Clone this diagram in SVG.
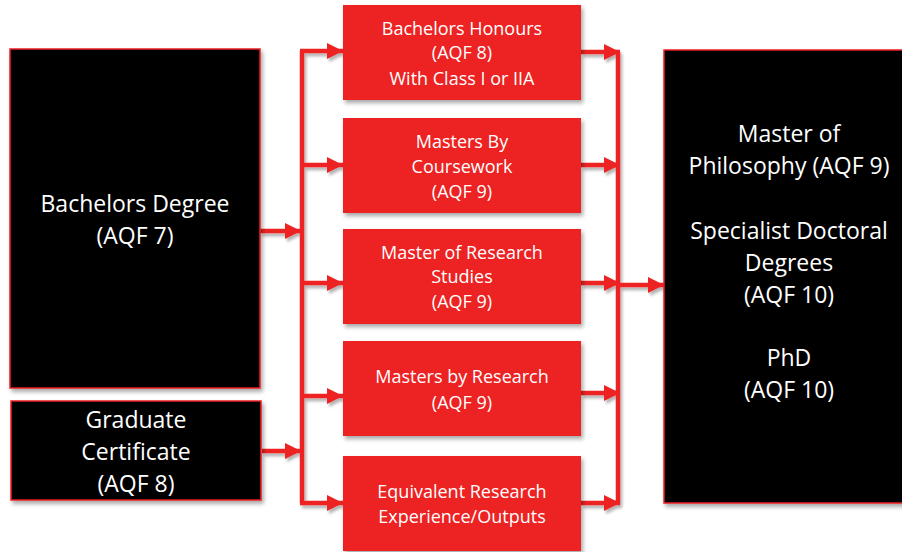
<svg xmlns="http://www.w3.org/2000/svg" width="902" height="552" viewBox="0 0 902 552">
<style>
.blk{fill:#000;stroke:#ED2024;stroke-width:1.5;filter:url(#sh)}
.red{fill:#ED2024;filter:url(#sh)}
.t{font-family:"Open Sans","Liberation Sans",sans-serif;fill:#fff;text-anchor:middle}
.big{font-size:23px}
.sm{font-size:18px}
.ln{stroke:#ED2024;stroke-width:4.5;fill:none}
</style>
<defs>
<filter id="sh" x="-10%" y="-10%" width="130%" height="130%">
<feDropShadow dx="2" dy="3" stdDeviation="2" flood-color="#000" flood-opacity="0.35"/>
</filter>
<filter id="lsh" filterUnits="userSpaceOnUse" x="0" y="0" width="902" height="552">
<feDropShadow dx="2" dy="3" stdDeviation="1.5" flood-color="#000" flood-opacity="0.3"/>
</filter>
<marker id="ah" markerUnits="userSpaceOnUse" markerWidth="18" markerHeight="18" refX="16" refY="9" orient="auto">
<polygon points="0,1 16,9 0,17" fill="#ED2024"/>
</marker>
</defs>
<rect width="902" height="552" fill="#fff"/>
<g id="connectors" filter="url(#lsh)">
<path class="ln" d="M302,51 V503"/>
<path class="ln" d="M618,52 V503"/>
<line class="ln" x1="260" y1="231" x2="301" y2="231" marker-end="url(#ah)"/>
<line class="ln" x1="262" y1="451" x2="301" y2="451" marker-end="url(#ah)"/>
<line class="ln" x1="300" y1="51" x2="343" y2="51" marker-end="url(#ah)"/>
<line class="ln" x1="300" y1="165" x2="343" y2="165" marker-end="url(#ah)"/>
<line class="ln" x1="300" y1="283" x2="343" y2="283" marker-end="url(#ah)"/>
<line class="ln" x1="300" y1="396" x2="343" y2="396" marker-end="url(#ah)"/>
<line class="ln" x1="300" y1="503" x2="343" y2="503" marker-end="url(#ah)"/>
<line class="ln" x1="581" y1="52" x2="620" y2="52" marker-end="url(#ah)"/>
<line class="ln" x1="581" y1="165" x2="620" y2="165" marker-end="url(#ah)"/>
<line class="ln" x1="581" y1="283" x2="620" y2="283" marker-end="url(#ah)"/>
<line class="ln" x1="581" y1="393" x2="620" y2="393" marker-end="url(#ah)"/>
<line class="ln" x1="581" y1="503" x2="620" y2="503" marker-end="url(#ah)"/>
<line class="ln" x1="617" y1="285" x2="664" y2="285" marker-end="url(#ah)"/>
</g>
<g id="bachelors">
<rect class="blk" x="10" y="49" width="250" height="339"/>
<text class="t big" x="135" y="212">Bachelors Degree</text>
<text class="t big" x="135" y="244">(AQF 7)</text>
</g>
<g id="gradcert">
<rect class="blk" x="11" y="401" width="250" height="99"/>
<text class="t big" x="136" y="428">Graduate</text>
<text class="t big" x="136" y="460">Certificate</text>
<text class="t big" x="136" y="492">(AQF 8)</text>
</g>
<g id="honours">
<rect class="red" x="343" y="5" width="238" height="95"/>
<text class="t sm" x="462" y="35">Bachelors Honours</text>
<text class="t sm" x="462" y="59">(AQF 8)</text>
<text class="t sm" x="462" y="85">With Class I or IIA</text>
</g>
<g id="coursework">
<rect class="red" x="343" y="118" width="238" height="95"/>
<text class="t sm" x="462" y="148">Masters By</text>
<text class="t sm" x="462" y="173">Coursework</text>
<text class="t sm" x="462" y="198">(AQF 9)</text>
</g>
<g id="research-studies">
<rect class="red" x="343" y="229" width="238" height="95"/>
<text class="t sm" x="462" y="259">Master of Research</text>
<text class="t sm" x="462" y="283">Studies</text>
<text class="t sm" x="462" y="308">(AQF 9)</text>
</g>
<g id="masters-research">
<rect class="red" x="343" y="341" width="238" height="95"/>
<text class="t sm" x="462" y="383">Masters by Research</text>
<text class="t sm" x="462" y="409">(AQF 9)</text>
</g>
<g id="equivalent">
<rect class="red" x="343" y="456" width="238" height="95"/>
<text class="t sm" x="462" y="498">Equivalent Research</text>
<text class="t sm" x="462" y="523">Experience/Outputs</text>
</g>
<g id="outcomes">
<rect class="blk" x="664" y="50" width="245" height="453"/>
<text class="t big" x="789" y="142">Master of</text>
<text class="t big" x="789" y="174">Philosophy (AQF 9)</text>
<text class="t big" x="789" y="239">Specialist Doctoral</text>
<text class="t big" x="789" y="271">Degrees</text>
<text class="t big" x="789" y="303">(AQF 10)</text>
<text class="t big" x="789" y="366">PhD</text>
<text class="t big" x="789" y="398">(AQF 10)</text>
</g>
</svg>
